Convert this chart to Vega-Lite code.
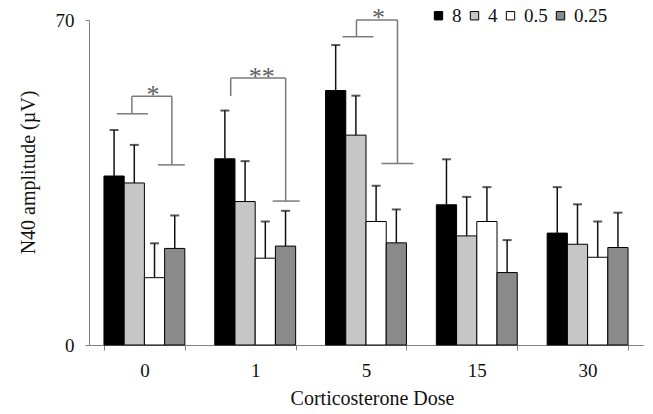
{
  "$schema": "https://vega.github.io/schema/vega-lite/v6.json",
  "width": 554,
  "height": 325,
  "autosize": {"type": "none"},
  "padding": {"left": 89, "top": 20, "right": 10, "bottom": 69},
  "background": "white",
  "config": {
    "view": {"stroke": null},
    "font": "Liberation Serif",
    "axis": {"grid": false, "domainColor": "#808080", "tickColor": "#808080", "labelColor": "#111111", "titleColor": "#111111", "titleFontWeight": "normal", "labelFont": "Liberation Serif", "titleFont": "Liberation Serif"}
  },
  "datasets": {
    "bars": [
      {"dose": "0", "series": "8", "value": 36.4, "upper": 46.3},
      {"dose": "0", "series": "4", "value": 34.9, "upper": 43.1},
      {"dose": "0", "series": "0.5", "value": 14.5, "upper": 21.9},
      {"dose": "0", "series": "0.25", "value": 20.8, "upper": 27.9},
      {"dose": "1", "series": "8", "value": 40.1, "upper": 50.5},
      {"dose": "1", "series": "4", "value": 30.9, "upper": 39.6},
      {"dose": "1", "series": "0.5", "value": 18.7, "upper": 26.6},
      {"dose": "1", "series": "0.25", "value": 21.3, "upper": 28.9},
      {"dose": "5", "series": "8", "value": 54.8, "upper": 64.6},
      {"dose": "5", "series": "4", "value": 45.2, "upper": 53.7},
      {"dose": "5", "series": "0.5", "value": 26.6, "upper": 34.3},
      {"dose": "5", "series": "0.25", "value": 22.0, "upper": 29.2},
      {"dose": "15", "series": "8", "value": 30.2, "upper": 40.0},
      {"dose": "15", "series": "4", "value": 23.5, "upper": 31.9},
      {"dose": "15", "series": "0.5", "value": 26.6, "upper": 34.0},
      {"dose": "15", "series": "0.25", "value": 15.6, "upper": 22.6},
      {"dose": "30", "series": "8", "value": 24.1, "upper": 34.0},
      {"dose": "30", "series": "4", "value": 21.7, "upper": 30.3},
      {"dose": "30", "series": "0.5", "value": 18.9, "upper": 26.6},
      {"dose": "30", "series": "0.25", "value": 21.0, "upper": 28.5}
    ],
    "brackets": [
      {"xa": 0.252, "xb": 0.532, "ya": 49.8, "yb": 49.8},
      {"xa": 0.387, "xb": 0.387, "ya": 49.8, "yb": 53.6},
      {"xa": 0.387, "xb": 0.748, "ya": 53.6, "yb": 53.6},
      {"xa": 0.748, "xb": 0.748, "ya": 53.6, "yb": 38.8},
      {"xa": 0.622, "xb": 0.865, "ya": 38.8, "yb": 38.8},
      {"xa": 1.279, "xb": 1.279, "ya": 53.6, "yb": 57.5},
      {"xa": 1.279, "xb": 1.775, "ya": 57.5, "yb": 57.5},
      {"xa": 1.775, "xb": 1.775, "ya": 57.5, "yb": 31.0},
      {"xa": 1.658, "xb": 1.901, "ya": 31.0, "yb": 31.0},
      {"xa": 2.288, "xb": 2.568, "ya": 66.4, "yb": 66.4},
      {"xa": 2.414, "xb": 2.414, "ya": 66.4, "yb": 70.0},
      {"xa": 2.414, "xb": 2.784, "ya": 70.0, "yb": 70.0},
      {"xa": 2.784, "xb": 2.784, "ya": 70.0, "yb": 39.1},
      {"xa": 2.64, "xb": 2.928, "ya": 39.1, "yb": 39.1}
    ],
    "stars": [
      {"xs": 0.577, "ys": 52.2, "label": "*"},
      {"xs": 1.559, "ys": 56.0, "label": "**"},
      {"xs": 2.613, "ys": 68.7, "label": "*"}
    ]
  },
  "layer": [
    {
      "data": {"name": "bars"},
      "encoding": {
        "x": {
          "field": "dose", "type": "nominal", "sort": ["0", "1", "5", "15", "30"],
          "scale": {"paddingInner": 0.27, "paddingOuter": 0.135},
          "axis": {"title": "Corticosterone Dose", "labelAngle": 0, "tickBand": "extent", "tickSize": 5, "labelFontSize": 19, "labelPadding": 11, "titleFontSize": 20, "titlePadding": 8, "titleX": 283}
        },
        "xOffset": {"field": "series", "type": "nominal", "sort": ["8", "4", "0.5", "0.25"], "scale": {"paddingInner": 0, "paddingOuter": 0}}
      },
      "layer": [
        {
          "mark": {"type": "bar", "stroke": "black", "strokeWidth": 1},
          "encoding": {
            "y": {
              "field": "value", "type": "quantitative",
              "scale": {"domain": [0, 70], "nice": false},
              "axis": {"values": [0, 70], "title": "N40 amplitude (µV)", "tickSize": 4, "labelFontSize": 19, "labelPadding": 11, "titleFontSize": 20, "titlePadding": 17, "titleY": 152}
            },
            "color": {
              "field": "series", "type": "nominal", "sort": ["8", "4", "0.5", "0.25"],
              "scale": {"domain": ["8", "4", "0.5", "0.25"], "range": ["#000000", "#c6c6c6", "#ffffff", "#8a8a8a"]},
              "legend": {"orient": "none", "legendX": 340, "legendY": -14, "direction": "horizontal", "columns": 4, "gridAlign": "each", "title": null, "symbolType": "square", "symbolSize": 70, "symbolStrokeColor": "black", "symbolStrokeWidth": 1, "labelFontSize": 19, "labelFont": "Liberation Serif", "labelColor": "#111111", "labelOffset": 4, "columnPadding": 3, "padding": 0}
            }
          }
        },
        {
          "mark": {"type": "rule", "color": "#111111", "strokeWidth": 1.5},
          "encoding": {
            "y": {"field": "value", "type": "quantitative", "title": "N40 amplitude (µV)"},
            "y2": {"field": "upper"}
          }
        },
        {
          "mark": {"type": "tick", "color": "#111111", "thickness": 2, "size": 9, "orient": "horizontal"},
          "encoding": {
            "y": {"field": "upper", "type": "quantitative", "title": "N40 amplitude (µV)"}
          }
        }
      ]
    },
    {
      "data": {"name": "brackets"},
      "mark": {"type": "rule", "color": "#7a7a7a", "strokeWidth": 1.5},
      "encoding": {
        "x": {"field": "xa", "type": "quantitative", "scale": {"domain": [0, 5], "nice": false}, "axis": null},
        "x2": {"field": "xb"},
        "y": {"field": "ya", "type": "quantitative", "title": "N40 amplitude (µV)"},
        "y2": {"field": "yb"}
      }
    },
    {
      "data": {"name": "stars"},
      "mark": {"type": "text", "color": "#5e5e5e", "fontSize": 26, "font": "Liberation Serif", "align": "center", "baseline": "alphabetic"},
      "encoding": {
        "x": {"field": "xs", "type": "quantitative", "scale": {"domain": [0, 5], "nice": false}, "axis": null},
        "y": {"field": "ys", "type": "quantitative", "title": "N40 amplitude (µV)"},
        "text": {"field": "label"}
      }
    }
  ],
  "resolve": {"scale": {"x": "independent"}}
}
